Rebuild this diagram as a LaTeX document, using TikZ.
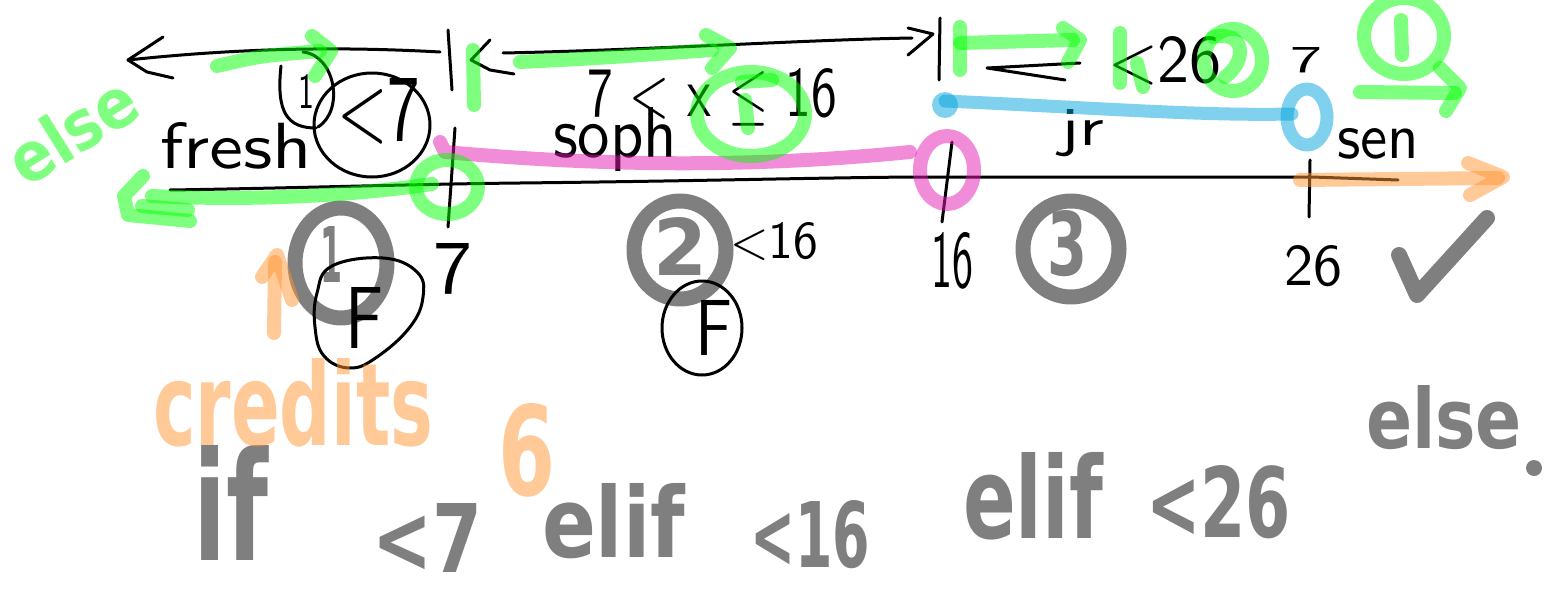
\documentclass[tikz,border=0pt]{standalone}
\usepackage{fontspec}
\newfontfamily\mk{DejaVu Sans}
\definecolor{mgreen}{RGB}{0,255,0}
\definecolor{mpink}{RGB}{228,28,178}
\definecolor{mblue}{RGB}{0,164,220}
\definecolor{morange}{RGB}{255,150,50}
\newcommand\putb[6][]{\node[anchor=base west,inner sep=0pt,outer sep=0pt,handtext,#1] (#2) at (#3) {\resizebox{#4pt}{#5pt}{#6}};}
\begin{document}
\begin{tikzpicture}[x=1pt,y=-1pt,
  pen/.style={line width=3pt,line cap=round,line join=round,draw=black},
  marker/.style={line width=14pt,line cap=round,line join=round,draw opacity=.5},
  gm/.style={marker,draw=mgreen},
  pm/.style={marker,draw=mpink},
  bm/.style={marker,line width=13pt,draw=mblue},
  om/.style={marker,draw=morange},
  graym/.style={marker,line width=15pt,draw=black},
  handtext/.style={font=\sffamily,text=black},
  graytext/.style={font=\mk\bfseries,text=black,text opacity=.5},
  orangetext/.style={font=\mk\bfseries,text=morange,text opacity=.5},
  greentext/.style={font=\mk\bfseries,text=mgreen,text opacity=.5,inner sep=0pt}]
\fill[white] (0,0) rectangle (1554,602);
\useasboundingbox (0,0) rectangle (1554,602);

% ---------- gray marker layer ----------
\draw[graym] (341,263) ellipse [x radius=46, y radius=55];
\draw[graym] (680,250) ellipse [x radius=46, y radius=49];
\draw[graym] (1071,249) ellipse [x radius=48, y radius=48];
\putb[graytext]{n1}{320,282}{22}{56}{1}
\putb[graytext]{n2}{653,275}{54}{58}{2}
\putb[graytext]{n3}{1047,275}{40}{65}{3}
\draw[graym,line width=16pt] (1399,255) -- (1417,295) -- (1487,218);
\putb[graytext]{ifw}{193,560}{75}{115}{if}
\putb[graytext]{lt7g}{372,572}{110}{69}{<7}
\putb[graytext]{elifa}{542,557}{143}{74}{elif}
\putb[graytext]{lt16g}{750,567}{120}{67}{<16}
\putb[graytext]{elifb}{963,538}{140}{86}{elif}
\putb[graytext]{lt26g}{1146,537}{145}{72}{<26}
\putb[graytext]{elsew}{1366,448}{156}{63}{else}
\fill[black,fill opacity=.5] (1534,468) circle [radius=8];

% ---------- black pen layer ----------
\draw[pen] (163,37) -- (128,60) -- (147,72) -- (173,78);
\draw[pen] (128,60) .. controls (250,47) and (350,47) .. (440,52);
\draw[pen] (448,30) -- (452,90);
\draw[pen] (490,40) -- (471,60) -- (490,70) -- (514,74);
\draw[pen] (503,53) .. controls (650,50) and (800,40) .. (912,38);
\draw[pen] (908,28) -- (933,34) -- (908,55);
\draw[pen] (940,18) -- (939,80);
\draw[pen] (1080,63) -- (987,68) -- (1065,80);
\draw[pen] (170,190) .. controls (300,188) and (420,184) .. (520,183) .. controls (700,181) and (800,178) .. (913,177) -- (1312,177) -- (1398,180);
\draw[pen] (455,128) -- (448,227);
\draw[pen] (952,142) -- (942,222);
\draw[pen] (1310,160) -- (1309,217);
\draw[pen] (281,66) .. controls (276,112) and (287,128) .. (316,128);
\draw[pen] (303,52) .. controls (335,55) and (345,110) .. (318,127);
\draw[pen] (372,125) ellipse [x radius=58, y radius=52];
\draw[pen] plot[smooth cycle,tension=0.7] coordinates {(383,258) (417,272) (423,297) (410,327) (377,357) (350,368) (324,356) (315,327) (317,293) (332,266)};
\draw[pen] (702,328) ellipse [x radius=40, y radius=47];

\putb{fresh}{160,168}{152}{46}{fresh}
\putb{lt7a}{337,140}{83}{62}{<7}
\putb{onea}{298,108}{16}{34}{1}
\putb{soph}{553,157}{124}{50}{soph}
\putb{ineq}{587,116}{250}{48}{7 < x $\leq$ 16}
\putb{jr}{1060,145}{44}{36}{jr}
\putb{sen}{1337,158}{82}{30}{sen}
\putb{sevenb}{433,293}{39}{50}{7}
\putb{lt16}{730,258}{88}{36}{<16}
\putb{sixteen}{931,287}{42}{55}{16}
\putb{twentysix}{1284,285}{58}{40}{26}
\putb{lt26}{1108,82}{114}{46}{<26}
\putb{seventop}{1290,72}{32}{25}{7}
\putb{Fa}{345,348}{38}{61}{F}
\putb{Fb}{695,355}{37}{55}{F}

% ---------- orange ----------
\putb[orangetext]{credits}{153,445}{280}{87}{credits}
\putb[orangetext]{six}{498,495}{57}{92}{6}
\draw[om] (262,277) -- (277,255) -- (292,300);
\draw[om] (275,262) -- (274,333);
\draw[om] (1300,180) -- (1498,178);
\draw[om] (1468,163) -- (1503,177) -- (1470,195);

% ---------- pink ----------
\draw[pm] (440,142) -- (445,152) .. controls (600,166) and (750,168) .. (910,152);
\draw[pm] (947,170) ellipse [x radius=27, y radius=34];

% ---------- blue ----------
\fill[mblue,fill opacity=.5] (945,105) circle [radius=13];
\draw[bm] (945,101) .. controls (1100,108) and (1200,116) .. (1292,114);
\draw[bm] (1307,117) ellipse [x radius=20, y radius=28];

% ---------- green ----------
\node[greentext,rotate=32] (elseg) at (72,130) {\resizebox{140pt}{52pt}{else}};
\draw[gm] (143,176) -- (124,196) -- (128,215) -- (190,221);
\draw[gm] (142,206) -- (188,210);
\draw[gm] (152,196) .. controls (250,201) and (350,196) .. (432,184);
\draw[gm] (447,187) ellipse [x radius=31, y radius=27];
\draw[gm] (217,66) .. controls (260,56) .. (320,51);
\draw[gm] (312,36) -- (331,51) -- (315,76);
\draw[gm] (473,50) -- (474,105);
\draw[gm] (520,62) .. controls (600,58) .. (712,50);
\draw[gm] (706,35) -- (730,48) -- (712,68);
\draw[gm] (751,114) ellipse [x radius=54, y radius=42];
\draw[gm] (742,82) -- (772,80);
\draw[gm] (745,100) -- (748,128);
\draw[gm] (960,27) -- (960,70);
\draw[gm] (960,43) -- (1073,40);
\draw[gm] (1063,28) -- (1080,40) -- (1068,62);
\draw[gm] (1120,33) -- (1120,83);
\draw[gm] (1137,63) -- (1143,87);
\draw[gm] (1233,60) ellipse [x radius=29, y radius=31];
\draw[gm] (1213,37) .. controls (1245,30) and (1248,60) .. (1225,77);
\draw[gm] (1404,36) ellipse [x radius=40, y radius=38];
\draw[gm] (1401,20) -- (1402,55);
\draw[gm] (1360,92) -- (1455,93);
\draw[gm] (1440,68) -- (1460,88) -- (1446,111);
\end{tikzpicture}
\end{document}
